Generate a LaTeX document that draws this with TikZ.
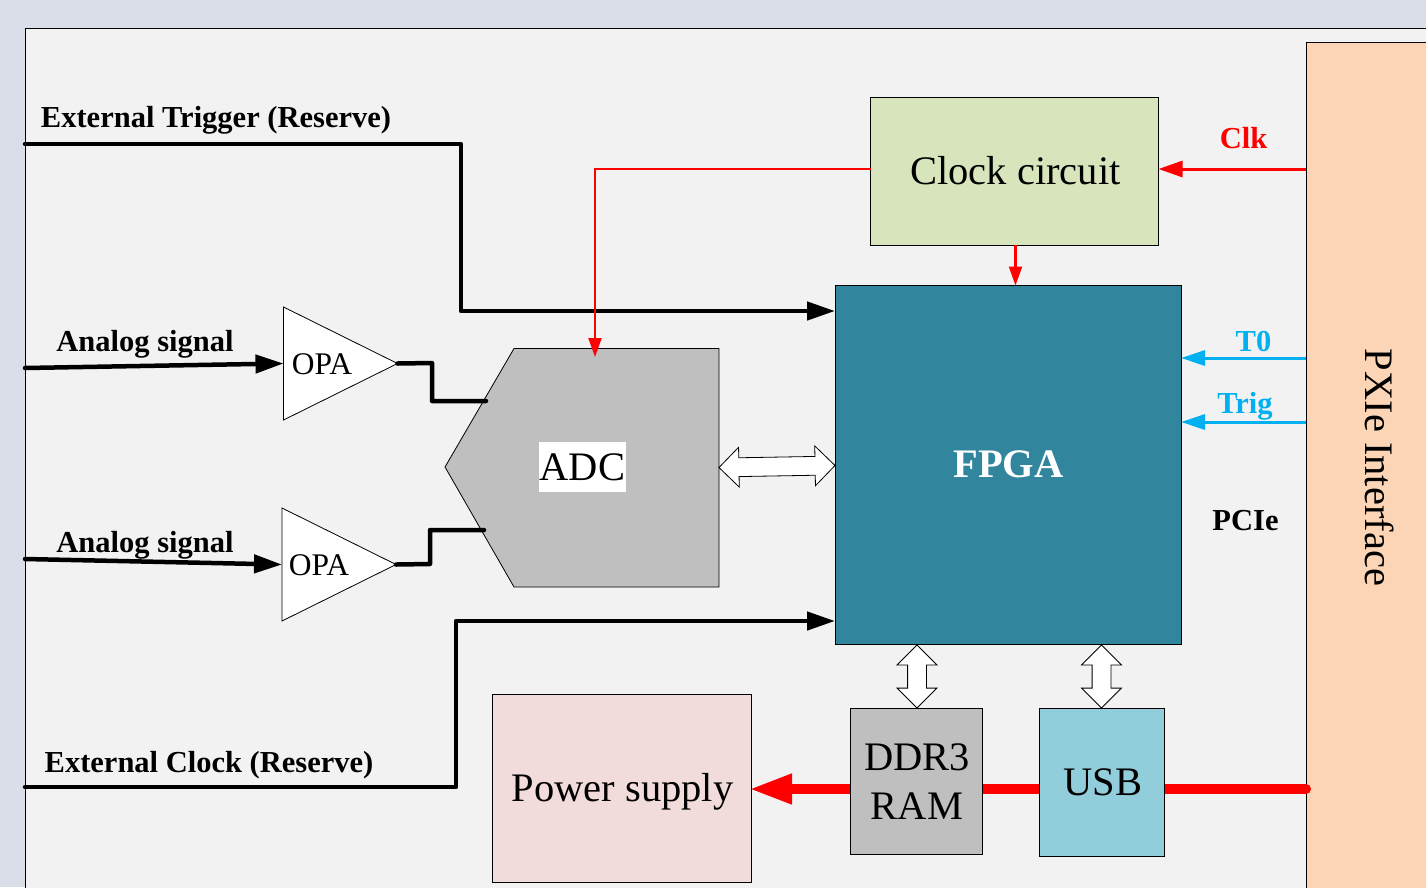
\documentclass[tikz,border=0pt]{standalone}
\usepackage{fontspec}
\setmainfont{Liberation Serif}
\usetikzlibrary{arrows.meta,shapes.geometric,shapes.arrows}
\definecolor{pagebg}{HTML}{D9DEE8}
\definecolor{panelbg}{HTML}{F2F2F2}
\definecolor{pxiecol}{HTML}{FBD5B5}
\definecolor{clockcol}{HTML}{D7E4BC}
\definecolor{fpgacol}{HTML}{31859C}
\definecolor{greycol}{HTML}{BFBFBF}
\definecolor{powercol}{HTML}{F2DCDB}
\definecolor{usbcol}{HTML}{92CDDC}
\definecolor{trigblue}{HTML}{00B0F0}
\tikzset{
    block/.style={draw, anchor=north west, inner sep=0pt, outer sep=0pt, line width=0.8pt},
    opatri/.style={draw, fill=white, isosceles triangle, isosceles triangle stretches, anchor=west, inner sep=0pt, outer sep=0pt, minimum width=113pt, minimum height=114pt, line width=0.8pt},
    dblarrow/.style={draw, fill=white, double arrow, inner xsep=0pt, inner ysep=9pt, outer sep=0pt, line width=0.8pt, double arrow head extend=10.5pt},
    blackwire/.style={line width=4.5pt, line join=round, line cap=round},
    blacktip/.style={-{Triangle[length=28pt,width=18pt]}},
    redthin/.style={red, line width=2.2pt, -{Triangle[length=19pt,width=13pt]}},
    bluewire/.style={trigblue, line width=3pt, -{Triangle[length=24pt,width=15pt]}},
    boldlabel/.style={font=\fontsize{30.5}{30.5}\selectfont\bfseries, inner sep=0pt},
    boxlabel/.style={font=\fontsize{40.5}{40.5}\selectfont, inner sep=0pt},
}
\begin{document}
\begin{tikzpicture}[x=1pt, y=-1pt]
    \useasboundingbox (0,0) rectangle (1426,887);
    \clip (0,0) rectangle (1426,887);

    % Draw background
    \fill[pagebg] (0,0) rectangle (1426,887);
    \draw[fill=panelbg, line width=0.8pt] (25.5,28.5) rectangle (1500,1000);
    \draw[fill=pxiecol, line width=0.8pt] (1306.5,42) rectangle (1500,1000);

    % Draw power line
    \coordinate (pxiepow) at (1306,789);
    \coordinate (powerin) at (749,789);
    \draw[red, line width=10pt, line cap=round, -{Triangle[length=43pt,width=28pt]}] (pxiepow) -- (powerin);

    % Draw blocks
    \node[block, fill=clockcol, minimum width=288pt, minimum height=147.5pt] (clock) at (870.5,97.5) {};
    \node[block, fill=fpgacol, minimum width=346pt, minimum height=358.5pt] (fpga) at (835,285.5) {};
    \node[block, fill=powercol, minimum width=259.5pt, minimum height=188pt] (power) at (492,694) {};
    \node[block, fill=greycol, minimum width=132.5pt, minimum height=146pt] (ddr) at (850,708) {};
    \node[block, fill=usbcol, minimum width=124.5pt, minimum height=148pt] (usb) at (1039.5,708) {};
    \draw[fill=greycol, line width=0.8pt] (514,348.5) -- (719,348.5) -- (719,587) -- (514,587) -- (445,467) -- cycle;
    \node[opatri] (opaone) at (283.5,363.5) {};
    \node[opatri] (opatwo) at (282,564.5) {};

    % Draw labels
    \node[boxlabel] (clocktext) at (1015.5,171) {Clock circuit};
    \node[boxlabel, font=\fontsize{40.5}{40.5}\selectfont\bfseries, text=white] (fpgatext) at (1008.5,464.5) {FPGA};
    \node[boxlabel] (powertext) at (622.5,792) {Power supply};
    \node[boxlabel] (ddrtext) at (917,757) {DDR3};
    \node[boxlabel] (ramtext) at (917,806) {RAM};
    \node[boxlabel] (usbtext) at (1103,782) {USB};
    \node[boxlabel, fill=white, inner xsep=1pt, inner ysep=11pt] (adctext) at (582.5,467) {ADC};
    \node[boxlabel, rotate=-90] (pxietext) at (1379.5,467.5) {PXIe Interface};
    \node[boxlabel, font=\fontsize{31.5}{31.5}\selectfont] (opaonetext) at (322,364) {OPA};
    \node[boxlabel, font=\fontsize{31.5}{31.5}\selectfont] (opatwotext) at (319,565) {OPA};
    \node[boldlabel] (exttrig) at (216,120) {External Trigger (Reserve)};
    \node[boldlabel] (extclk) at (209,765) {External Clock (Reserve)};
    \node[boldlabel] (sigone) at (145,344) {Analog signal};
    \node[boldlabel] (sigtwo) at (145,545) {Analog signal};
    \node[boldlabel, text=red] (clklabel) at (1243.5,138) {Clk};
    \node[boldlabel, text=trigblue] (tzero) at (1253.5,341) {T0};
    \node[boldlabel, text=trigblue] (triglabel) at (1245,406) {Trig};
    \node[boldlabel] (pcie) at (1245.5,521) {PCIe};

    % Draw free ends
    \coordinate (trigin) at (25,144);
    \coordinate (clkin) at (25,787);
    \coordinate (sigonein) at (25,368);
    \coordinate (sigtwoin) at (25,559);
    \coordinate (adctop) at (595,357);
    \coordinate (adcinone) at (486,401);
    \coordinate (adcintwo) at (484,530);
    \coordinate (fpgatrig) at (835,311);
    \coordinate (fpgaclk) at (835,621);
    \coordinate (pxieclk) at (1306,169);
    \coordinate (pxiezero) at (1306,358);
    \coordinate (pxietrig) at (1306,422);

    % Draw edges
    \draw[blackwire, blacktip] (trigin) -- (461,144) -- (461,311) -- (fpgatrig);
    \draw[blackwire, blacktip] (clkin) -- (456,787) -- (456,621) -- (fpgaclk);
    \draw[blackwire, blacktip] (sigonein) -- (opaone.west);
    \draw[blackwire, blacktip] (sigtwoin) -- (opatwo.west);
    \draw[blackwire] (opaone.apex) -- (432,363) -- (432,401) -- (adcinone);
    \draw[blackwire] (opatwo.apex) -- (430,564) -- (430,530) -- (adcintwo);
    \draw[redthin] (clock.west |- pxieclk) -- (595,169) -- (adctop);
    \draw[redthin] (clock.south -| clocktext) -- (fpga.north -| clocktext);
    \draw[red, line width=3pt, -{Triangle[length=24pt,width=16pt]}] (pxieclk) -- (clock.east |- pxieclk);
    \draw[bluewire] (pxiezero) -- (fpga.east |- pxiezero);
    \draw[bluewire] (pxietrig) -- (fpga.east |- pxietrig);

    % Draw double arrows
    \node[dblarrow, minimum height=116pt, rotate=1] (adcfpga) at (777,466.5) {};
    \node[dblarrow, minimum height=63pt, rotate=90] (ddrlink) at (917,676.5) {};
    \node[dblarrow, minimum height=63pt, rotate=90] (usblink) at (1101.5,676.5) {};
\end{tikzpicture}
\end{document}
